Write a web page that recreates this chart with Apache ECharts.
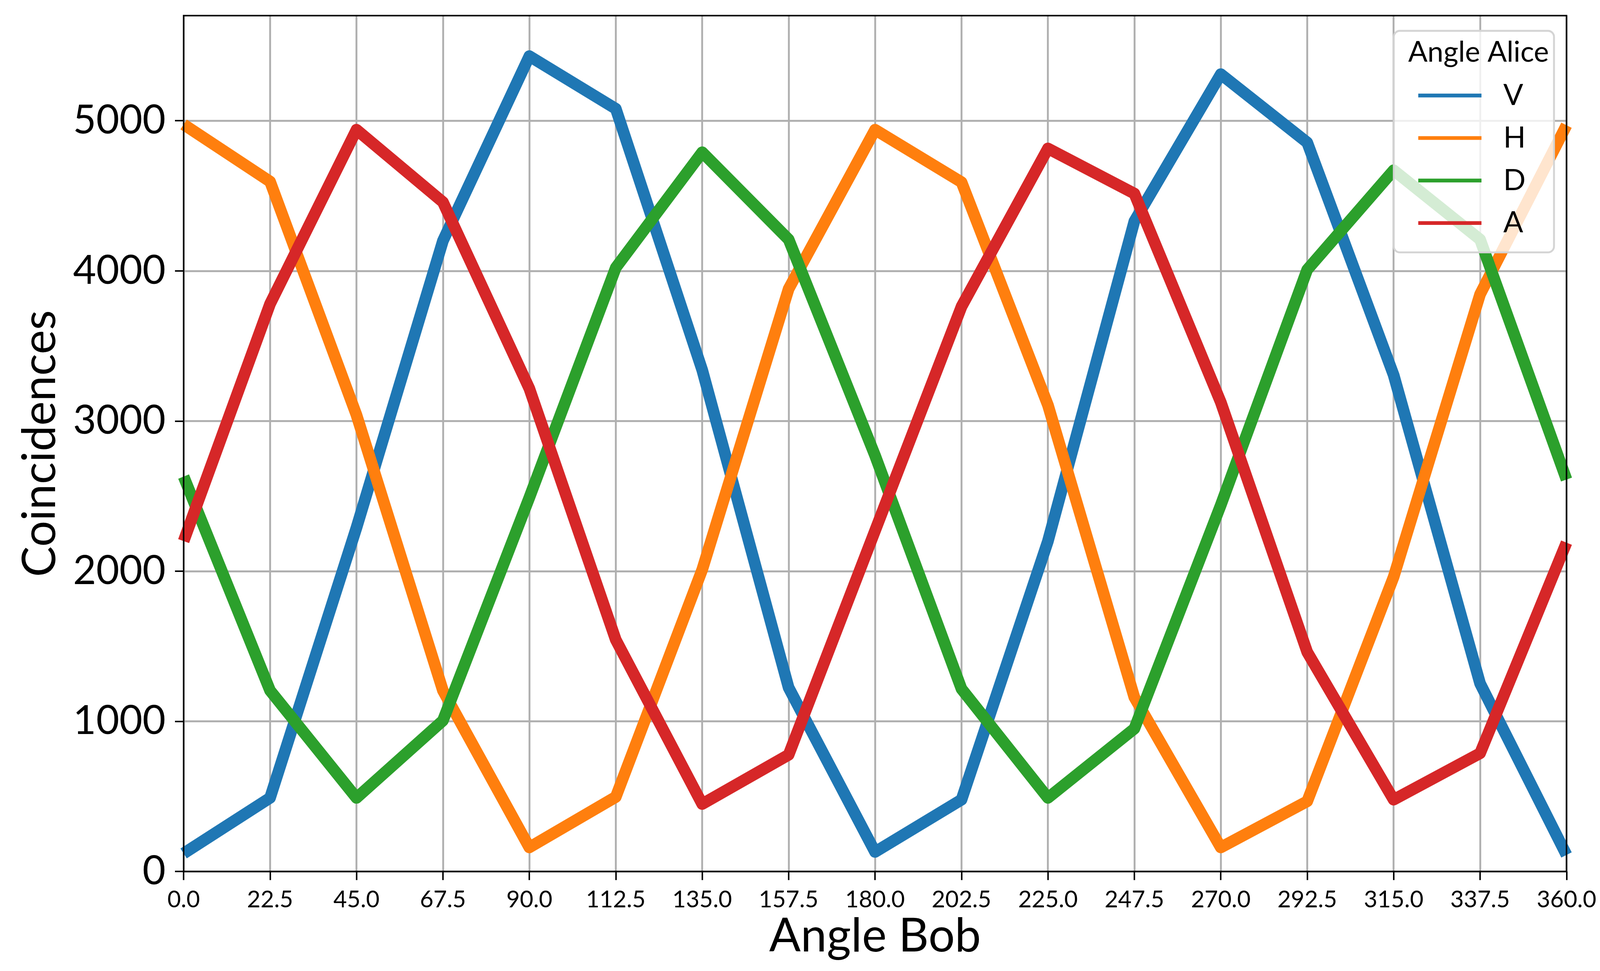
<!DOCTYPE html>
<html>
<head>
<meta charset="utf-8">
<script src="https://cdn.jsdelivr.net/npm/echarts@6/dist/echarts.min.js"></script>
<style>
html,body{margin:0;padding:0;background:#fff;overflow:hidden;}
#chart{width:100vw;height:100vh;}
</style>
</head>
<body>
<div id="chart"></div>
<script>
// Angle Bob (degrees)
const angles = [0, 22.5, 45, 67.5, 90, 112.5, 135, 157.5, 180, 202.5, 225, 247.5, 270, 292.5, 315, 337.5, 360];
// Coincidences per Alice setting
const seriesV = [120, 490, 2290, 4200, 5430, 5080, 3340, 1224, 130, 478, 2200, 4330, 5310, 4855, 3306, 1252, 110];
const seriesH = [4975, 4595, 3040, 1205, 160, 496, 2010, 3880, 4940, 4591, 3106, 1160, 160, 467, 1962, 3844, 4970];
const seriesD = [2630, 1205, 490, 1005, 2490, 4021, 4790, 4209, 2770, 1216, 490, 951, 2440, 4008, 4670, 4209, 2610];
const seriesA = [2200, 3780, 4940, 4458, 3216, 1543, 449, 777, 2270, 3762, 4815, 4515, 3125, 1461, 478, 787, 2190];
const yTicks = [0, 1000, 2000, 3000, 4000, 5000];
const legendNames = ['V', 'H', 'D', 'A'];
const colors = ['#1f77b4', '#ff7f0e', '#2ca02c', '#d62728'];

const FONT = 'Lato';
const allSeries = [seriesV, seriesH, seriesD, seriesA];

const el = document.getElementById('chart');
const W = el.clientWidth || 4252, H = el.clientHeight || 2487;
const sx = W / 4252, sy = H / 2487, s = Math.min(sx, sy);
const X = v => v * sx, Y = v => v * sy, S = v => v * s;

const chart = echarts.init(el, null, {renderer: 'canvas'});
const option = {
  animation: false,
  backgroundColor: '#ffffff',
  grid: {
    left: X(488), right: X(89), top: Y(40), bottom: Y(255),
    show: true, z: 10,
    backgroundColor: 'transparent',
    borderColor: '#000000', borderWidth: S(4)
  },
  title: {
    text: 'Angle Alice',
    left: X(3737), top: Y(93), z: 20,
    textStyle: {fontFamily: FONT, fontSize: S(76), fontWeight: 'normal', color: '#000'}
  },
  legend: {
    data: legendNames,
    orient: 'vertical',
    left: X(3704), top: Y(79),
    padding: [S(132), S(75), S(38), S(65)],
    itemWidth: S(168), itemHeight: S(10), itemGap: S(33),
    icon: 'rect',
    backgroundColor: 'rgba(255,255,255,0.8)',
    borderColor: '#d4d4d4', borderWidth: S(5), borderRadius: S(16),
    textStyle: {fontFamily: FONT, fontSize: S(78), color: '#000', lineHeight: S(80), padding: [0, 0, 0, S(53)]},
    z: 15
  },
  xAxis: {
    type: 'value', min: 0, max: 360, interval: 22.5,
    name: 'Angle Bob', nameLocation: 'middle', nameGap: S(105),
    nameTextStyle: {fontFamily: FONT, fontSize: S(124), color: '#000'},
    axisLine: {show: false},
    axisTick: {show: true, length: S(23), lineStyle: {color: '#000', width: S(4)}},
    axisLabel: {
      fontFamily: FONT, fontSize: S(62), color: '#000', margin: S(44),
      formatter: v => Number(v).toFixed(1)
    },
    splitLine: {show: true, lineStyle: {color: '#b0b0b0', width: S(5)}}
  },
  yAxis: {
    type: 'value', min: 0, max: 5700,
    name: 'Coincidences', nameLocation: 'middle', nameGap: S(320),
    nameTextStyle: {fontFamily: FONT, fontSize: S(122), color: '#000'},
    axisLine: {show: false},
    axisTick: {show: true, length: S(23), lineStyle: {color: '#000', width: S(4)}, customValues: yTicks},
    axisLabel: {
      fontFamily: FONT, fontSize: S(106), color: '#000', margin: S(48), customValues: yTicks,
      formatter: v => String(Math.round(v))
    },
    splitLine: {show: true, lineStyle: {color: '#b0b0b0', width: S(5)}}
  },
  series: legendNames.map((name, i) => ({
    name: name,
    type: 'line',
    data: angles.map((a, j) => [a, allSeries[i][j]]),
    symbol: 'none',
    showSymbol: false,
    clip: true,
    color: colors[i],
    lineStyle: {color: colors[i], width: S(31), join: 'round', cap: 'butt'},
    z: 2 + i
  }))
};
chart.setOption(option);
</script>
</body>
</html>
